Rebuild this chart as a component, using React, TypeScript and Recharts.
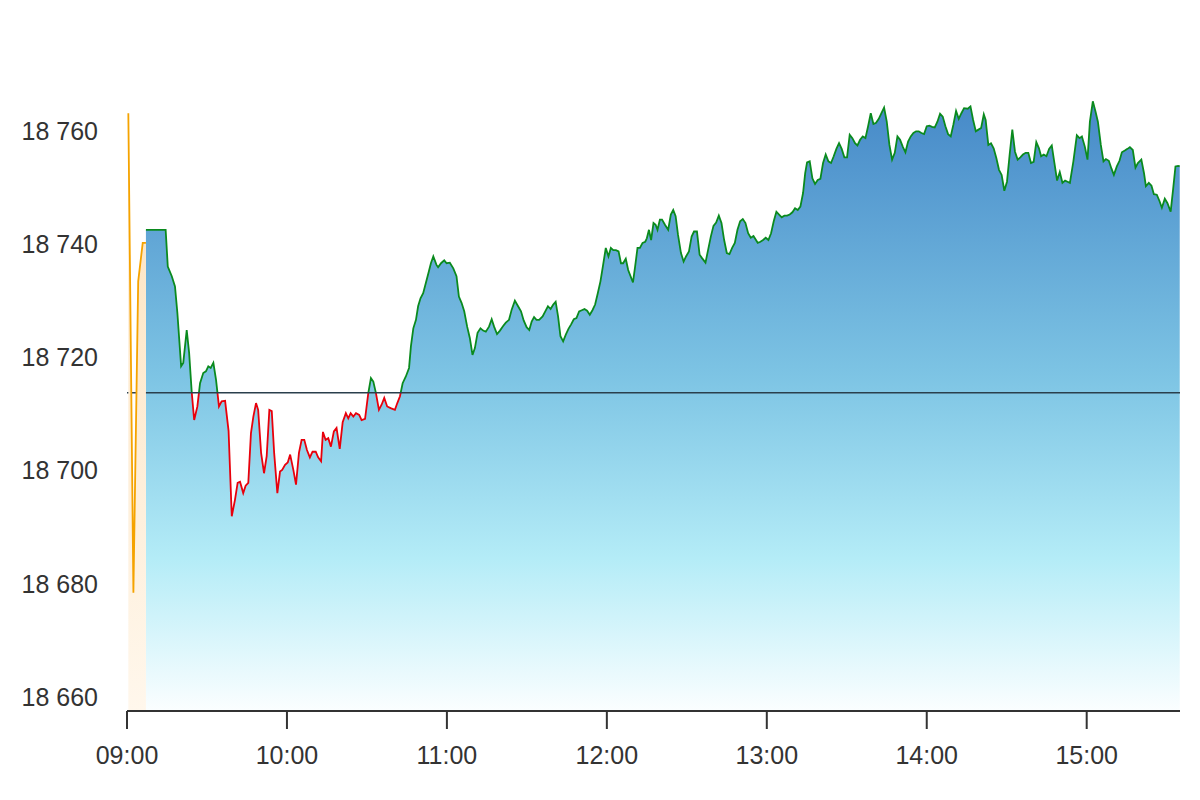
import { ComposedChart, Area, XAxis, YAxis } from "recharts";

// minutes after 09:00
const preTimes = [0.5, 2.4, 4.2, 5.9, 7.1];
const preValues = [18763.1, 18678.4, 18733.4, 18740.2, 18740.2];

const mainTimes = [
  7.1, 14.5, 15.3, 16.8, 18.0, 18.9, 20.3, 21.1, 22.4, 23.3,
  24.3, 25.2, 26.4, 27.4, 28.6, 29.6, 30.5, 31.4, 32.4, 33.4,
  34.5, 35.5, 36.8, 38.1, 39.3, 40.5, 41.5, 42.4, 43.6, 44.5,
  45.5, 46.5, 47.4, 48.4, 49.2, 50.3, 51.4, 52.4, 53.4, 54.3,
  55.2, 56.4, 57.4, 58.2, 59.3, 60.3, 61.2, 62.4, 63.4, 64.5,
  65.5, 66.5, 67.5, 68.6, 69.6, 70.8, 71.7, 72.8, 73.5, 74.5,
  75.5, 76.5, 77.6, 78.6, 79.8, 80.9, 82.1, 83.0, 83.9, 84.9,
  85.9, 87.1, 88.0, 89.3, 90.5, 91.5, 92.4, 93.4, 94.5, 95.5,
  96.5, 97.6, 98.9, 100.5, 101.4, 102.4, 103.4, 104.6, 105.8, 106.5,
  107.4, 108.4, 109.2, 110.1, 111.1, 112.1, 113.1, 114.0, 114.9, 116.1,
  116.7, 117.8, 119.0, 119.9, 121.1, 122.4, 123.6, 124.5, 125.5, 126.5,
  127.6, 128.6, 129.6, 130.5, 131.5, 132.6, 133.6, 134.6, 135.8, 136.8,
  137.7, 138.8, 139.9, 141.1, 142.1, 143.3, 144.3, 145.5, 146.7, 147.8,
  148.8, 149.9, 150.9, 151.8, 152.7, 153.6, 154.6, 155.9, 156.9, 157.9,
  158.9, 159.9, 160.8, 161.7, 162.6, 163.6, 164.6, 165.6, 166.6, 167.6,
  168.6, 169.6, 170.6, 171.6, 172.6, 173.6, 174.6, 175.6, 176.6, 177.6,
  178.6, 179.6, 180.6, 181.5, 182.4, 183.4, 184.4, 185.3, 186.1, 187.1,
  188.0, 188.9, 189.8, 190.6, 191.5, 192.4, 193.4, 194.4, 195.0, 195.8,
  196.6, 197.5, 198.3, 199.0, 199.9, 200.7, 201.8, 203.0, 204.0, 204.9,
  205.8, 206.7, 207.8, 208.8, 209.7, 210.8, 211.8, 212.7, 213.8, 214.8,
  215.7, 217.0, 218.0, 219.0, 220.0, 221.0, 222.0, 223.0, 224.0, 225.0,
  226.0, 227.0, 228.0, 229.0, 230.0, 231.0, 232.0, 233.0, 234.0, 235.0,
  236.6, 237.6, 238.6, 239.6, 240.6, 241.6, 242.6, 243.6, 244.6, 245.6,
  246.6, 247.6, 248.6, 249.6, 250.6, 251.6, 252.6, 253.6, 254.4, 255.1,
  256.1, 257.1, 258.1, 259.1, 260.1, 261.1, 262.1, 263.1, 264.1, 265.1,
  266.1, 267.1, 268.1, 269.1, 270.1, 271.1, 272.1, 273.1, 274.0, 275.0,
  276.0, 277.0, 278.0, 279.0, 280.0, 281.0, 282.0, 283.0, 284.0, 285.0,
  286.0, 287.0, 288.0, 289.0, 290.0, 291.0, 292.0, 293.0, 294.0, 295.0,
  296.0, 297.0, 298.0, 299.0, 300.0, 301.0, 302.0, 303.0, 304.0, 305.0,
  306.0, 307.0, 308.0, 309.0, 310.0, 311.0, 312.0, 313.0, 314.0, 315.4,
  316.4, 317.4, 318.4, 319.4, 320.4, 321.4, 322.1, 323.1, 324.1, 325.1,
  326.1, 327.1, 328.1, 329.1, 330.1, 331.1, 332.1, 333.1, 334.1, 335.1,
  336.1, 337.1, 338.1, 339.1, 340.1, 341.1, 342.1, 342.9, 343.9, 344.9,
  345.9, 346.9, 347.9, 348.9, 349.9, 350.9, 351.9, 352.8, 353.7, 355.0,
  356.3, 357.3, 358.2, 359.3, 360.3, 361.2, 362.3, 363.3, 364.2, 365.3,
  366.3, 367.2, 368.3, 369.3, 370.2, 371.3, 372.3, 373.2, 374.3, 375.3,
  376.2, 377.3, 378.3, 379.2, 380.5, 381.5, 382.2, 383.3, 384.3, 385.2,
  386.3, 387.3, 388.2, 389.3, 390.3, 391.5, 392.4, 393.3, 394.3, 394.9,
];

const mainValues = [
  18742.5, 18742.5, 18736.0, 18734.3, 18732.5, 18727.8, 18718.4, 18719.0, 18724.8, 18720.8,
  18713.7, 18708.9, 18711.3, 18715.4, 18717.2, 18717.5, 18718.4, 18718.1, 18719.0, 18716.0,
  18711.3, 18712.2, 18712.3, 18707.0, 18691.9, 18694.8, 18697.8, 18698.0, 18696.0, 18697.3,
  18697.8, 18706.6, 18709.5, 18711.9, 18710.7, 18703.1, 18699.5, 18702.5, 18710.7, 18710.5,
  18703.1, 18696.0, 18699.8, 18700.1, 18701.0, 18701.4, 18702.8, 18700.1, 18697.5, 18703.1,
  18705.4, 18705.4, 18703.6, 18702.3, 18703.3, 18703.3, 18702.3, 18701.6, 18706.8, 18705.4,
  18705.7, 18704.2, 18706.9, 18707.5, 18703.8, 18708.5, 18710.1, 18709.2, 18710.1, 18709.5,
  18710.1, 18709.8, 18708.9, 18709.1, 18713.6, 18716.3, 18715.7, 18713.6, 18710.7, 18711.6,
  18712.8, 18711.3, 18711.0, 18710.7, 18711.9, 18713.1, 18715.4, 18716.6, 18718.1, 18721.9,
  18725.1, 18726.6, 18729.0, 18730.4, 18731.3, 18733.1, 18734.9, 18736.6, 18737.8, 18736.3,
  18735.9, 18736.6, 18737.1, 18736.6, 18736.7, 18735.7, 18734.3, 18730.7, 18729.6, 18728.1,
  18725.4, 18723.4, 18720.4, 18721.6, 18724.3, 18725.1, 18724.7, 18724.5, 18725.4, 18726.7,
  18725.4, 18724.1, 18724.7, 18725.5, 18726.1, 18726.6, 18728.4, 18730.0, 18729.0, 18728.1,
  18726.5, 18725.3, 18724.8, 18726.3, 18727.1, 18726.6, 18726.6, 18727.2, 18728.1, 18729.0,
  18728.5, 18729.3, 18729.8, 18727.2, 18723.7, 18722.8, 18724.0, 18725.0, 18725.8, 18726.7,
  18726.9, 18728.1, 18728.3, 18728.5, 18728.2, 18727.5, 18728.3, 18729.3, 18731.3, 18733.4,
  18736.3, 18739.3, 18737.8, 18739.3, 18738.9, 18738.9, 18738.7, 18736.6, 18736.6, 18737.4,
  18735.4, 18734.3, 18733.2, 18736.0, 18739.3, 18739.3, 18740.2, 18740.4, 18741.0, 18742.5,
  18740.7, 18743.7, 18743.4, 18742.5, 18744.3, 18744.3, 18743.4, 18742.5, 18745.2, 18746.0,
  18744.9, 18741.6, 18738.4, 18736.9, 18737.8, 18738.7, 18741.3, 18742.2, 18742.2, 18738.1,
  18737.5, 18736.7, 18739.0, 18741.3, 18743.2, 18743.8, 18745.0, 18743.7, 18740.7, 18738.4,
  18738.2, 18739.3, 18740.2, 18742.5, 18744.0, 18744.4, 18743.7, 18741.9, 18741.1, 18741.4,
  18740.2, 18740.4, 18740.7, 18741.1, 18740.7, 18741.9, 18744.0, 18745.7, 18745.2, 18744.7,
  18745.0, 18745.0, 18745.2, 18745.6, 18746.3, 18746.0, 18746.6, 18749.0, 18752.5, 18754.4,
  18754.6, 18751.6, 18750.6, 18751.3, 18751.5, 18754.3, 18755.8, 18754.6, 18754.3, 18755.5,
  18756.8, 18757.8, 18756.8, 18755.3, 18755.3, 18759.3, 18758.7, 18757.8, 18757.4, 18758.4,
  18759.0, 18758.7, 18760.8, 18763.1, 18761.2, 18761.4, 18762.1, 18763.1, 18764.1, 18761.6,
  18757.5, 18754.9, 18756.1, 18759.0, 18758.4, 18757.2, 18756.2, 18758.1, 18759.0, 18759.6,
  18759.9, 18759.9, 18759.6, 18759.4, 18760.8, 18760.9, 18760.7, 18760.6, 18761.6, 18763.0,
  18762.5, 18760.8, 18759.4, 18759.0, 18761.1, 18763.5, 18762.1, 18763.1, 18764.0, 18763.9,
  18764.3, 18761.9, 18759.9, 18760.2, 18760.5, 18762.9, 18761.9, 18757.5, 18757.8, 18756.9,
  18755.2, 18753.1, 18752.2, 18749.4, 18751.0, 18755.8, 18760.2, 18756.3, 18754.9, 18755.3,
  18755.8, 18756.1, 18756.1, 18754.3, 18754.5, 18758.0, 18756.9, 18755.5, 18755.8, 18755.5,
  18756.8, 18757.4, 18754.3, 18751.2, 18752.7, 18750.8, 18751.2, 18751.0, 18750.8, 18754.6,
  18759.2, 18758.7, 18759.0, 18757.2, 18754.9, 18761.6, 18765.2, 18763.4, 18761.6, 18757.5,
  18754.6, 18755.0, 18754.7, 18753.3, 18752.2, 18753.7, 18754.7, 18756.2, 18756.5, 18756.8,
  18757.1, 18756.6, 18753.5, 18754.3, 18754.9, 18752.5, 18750.2, 18750.8, 18750.3, 18748.8,
  18748.7, 18747.6, 18746.4, 18748.0, 18747.2, 18745.7, 18749.6, 18753.7, 18753.8, 18753.7,
];

const prevClose = 18713.7;
const xTicks = [0, 60, 120, 180, 240, 300, 360];
const yTicks = [18660, 18680, 18700, 18720, 18740, 18760];
const xMax = 395;

const preData = preTimes.map((t, i) => ({ t, v: preValues[i] }));
const mainData = mainTimes.map((t, i) => ({ t, v: mainValues[i] }));
// previous close, drawn across the whole session
const closeData = [
  { t: 0, v: prevClose },
  { t: xMax, v: prevClose },
];

// where the line colour flips from green to red (share of the line's height)
const hi = Math.max(...mainValues);
const lo = Math.min(...mainValues);
const split = (hi - prevClose) / (hi - lo);

const fmtTime = (m: number) => {
  const h = 9 + Math.floor(m / 60);
  const mm = m % 60;
  return `${String(h).padStart(2, "0")}:${String(mm).padStart(2, "0")}`;
};
const fmtNum = (n: number) =>
  `${Math.floor(n / 1000)} ${String(n % 1000).padStart(3, "0")}`;

const font = "'Liberation Sans', Arial, sans-serif";

export default function App() {
  return (
    <div style={{ position: "absolute", left: 0, top: 0, background: "#fff" }}>
      <ComposedChart
        width={1200}
        height={800}
        margin={{ top: 60, right: 20, bottom: 29, left: 0 }}
        style={{ fontFamily: font }}
      >
        <defs>
          <linearGradient id="lineGrad" x1="0" y1="0" x2="0" y2="1">
            <stop offset={0} stopColor="#0a8a1e" />
            <stop offset={split} stopColor="#0a8a1e" />
            <stop offset={split} stopColor="#e8000b" />
            <stop offset={1} stopColor="#e8000b" />
          </linearGradient>
          <linearGradient id="fillGrad" x1="0" y1="0" x2="0" y2="1">
            <stop offset="0%" stopColor="#4689c8" />
            <stop offset="45%" stopColor="#7dc4e4" />
            <stop offset="75%" stopColor="#b4ecf7" />
            <stop offset="100%" stopColor="#fbfeff" />
          </linearGradient>
          <linearGradient id="preGrad" x1="0" y1="0" x2="0" y2="1">
            <stop offset="0%" stopColor="#fce2bd" />
            <stop offset="100%" stopColor="#fff7ec" />
          </linearGradient>
        </defs>
        <XAxis
          type="number"
          dataKey="t"
          domain={[0, xMax]}
          ticks={xTicks}
          tickFormatter={fmtTime}
          height={60}
          tickSize={18}
          tickMargin={17}
          axisLine={{ stroke: "#333", strokeWidth: 2 }}
          tickLine={{ stroke: "#333", strokeWidth: 2 }}
          tick={{ fill: "#333", fontSize: 25, fontFamily: font }}
        />
        <YAxis
          type="number"
          domain={[18657.5, 18772.5]}
          allowDataOverflow
          ticks={yTicks}
          tickFormatter={fmtNum}
          width={127}
          axisLine={false}
          tickLine={false}
          tickSize={0}
          tickMargin={29}
          tick={{ fill: "#333", fontSize: 25, fontFamily: font }}
        />
        <Area
          data={mainData}
          dataKey="v"
          type="linear"
          stroke="url(#lineGrad)"
          strokeWidth={1.8}
          fill="url(#fillGrad)"
          fillOpacity={1}
          dot={false}
          activeDot={false}
          isAnimationActive={false}
        />
        <Area
          data={closeData}
          dataKey="v"
          type="linear"
          stroke="#2a3f4c"
          strokeWidth={1.5}
          fill="none"
          dot={false}
          activeDot={false}
          isAnimationActive={false}
        />
        <Area
          data={preData}
          dataKey="v"
          type="linear"
          stroke="#f5a300"
          strokeWidth={1.8}
          fill="url(#preGrad)"
          fillOpacity={1}
          dot={false}
          activeDot={false}
          isAnimationActive={false}
        />
      </ComposedChart>
    </div>
  );
}
